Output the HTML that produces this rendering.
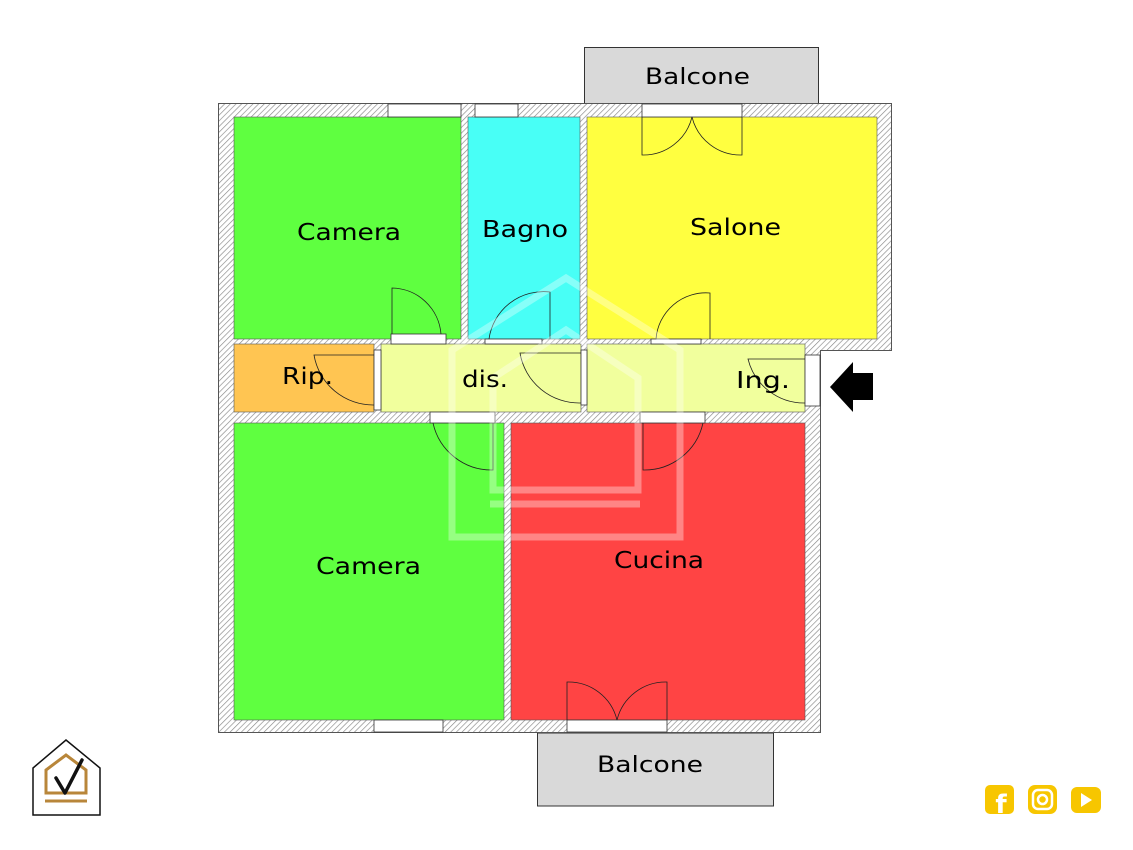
<!DOCTYPE html>
<html><head><meta charset="utf-8"><style>
html,body{margin:0;padding:0;background:#fff;width:1133px;height:850px;overflow:hidden}
svg{display:block}
text{font-family:"DejaVu Sans","Liberation Sans",sans-serif;fill:#000}
</style></head><body>
<svg width="1133" height="850" viewBox="0 0 1133 850" xmlns="http://www.w3.org/2000/svg">
<defs>
<pattern id="h" width="4" height="4" patternUnits="userSpaceOnUse" patternTransform="rotate(45)">
<rect width="4" height="4" fill="#fff"/><line x1="0" y1="0" x2="0" y2="4" stroke="#888" stroke-width="1.3"/>
</pattern>
</defs>
<rect x="584.5" y="47.5" width="234" height="56" fill="#d9d9d9" stroke="#333"/>
<text x="645" y="84" font-size="22" textLength="105" lengthAdjust="spacingAndGlyphs">Balcone</text>
<rect x="537.5" y="733" width="236" height="73" fill="#d9d9d9" stroke="#333"/>
<text x="597" y="772" font-size="22" textLength="106" lengthAdjust="spacingAndGlyphs">Balcone</text>
<path d="M218.5 103.5 H891.5 V350.5 H820.5 V732.5 H218.5 Z" fill="url(#h)" stroke="#555"/>
<rect x="234" y="117" width="227" height="222" fill="#5fff40" stroke="#555" stroke-width=".6"/>
<rect x="468" y="117" width="112" height="222" fill="#48fff6" stroke="#555" stroke-width=".6"/>
<rect x="587" y="117" width="290" height="222" fill="#ffff40" stroke="#555" stroke-width=".6"/>
<rect x="234" y="344" width="140" height="68" fill="#ffc552" stroke="#555" stroke-width=".6"/>
<rect x="381" y="344" width="200" height="68" fill="#f1ff9d" stroke="#555" stroke-width=".6"/>
<rect x="587" y="344" width="218" height="68" fill="#f1ff9d" stroke="#555" stroke-width=".6"/>
<rect x="234" y="423" width="270" height="297" fill="#5fff40" stroke="#555" stroke-width=".6"/>
<rect x="511" y="423" width="294" height="297" fill="#ff4444" stroke="#555" stroke-width=".6"/>
<g fill="#fff" stroke="#333" stroke-width=".8">
<rect x="388" y="104" width="73" height="13"/>
<rect x="475" y="104" width="43" height="13"/>
<rect x="642" y="104" width="100" height="13"/>
<rect x="374" y="720" width="69" height="12"/>
<rect x="567" y="720" width="100" height="12"/>
<rect x="805" y="355" width="15" height="51"/>
<rect x="391" y="334" width="55" height="10"/>
<rect x="485" y="339" width="57" height="5"/>
<rect x="651" y="339" width="50" height="5"/>
<rect x="430" y="412" width="65" height="11"/>
<rect x="640" y="412" width="65" height="11"/>
<rect x="374" y="350" width="7" height="60"/>
<rect x="581" y="350" width="6" height="55"/>
</g>
<g fill="none" stroke="#222" stroke-width=".8">
<path d="M392 334 V288 A50 50 0 0 1 441 334"/>
<path d="M550 339 V292 A55 55 0 0 0 489 339"/>
<path d="M710 339 V293 A50 50 0 0 0 656 339"/>
<path d="M642 117 V155 A50 50 0 0 0 692 117 M742 117 V155 A50 50 0 0 1 692 117"/>
<path d="M374 355 H314 A60 60 0 0 0 374 405"/>
<path d="M581 353 H520 A60 60 0 0 0 581 403"/>
<path d="M805 359 H748 A58 58 0 0 0 805 403"/>
<path d="M493 423 V470 A60 60 0 0 1 433 423"/>
<path d="M643 423 V470 A60 60 0 0 0 703 423"/>
<path d="M567 720 V682 A50 50 0 0 1 617 720 M667 720 V682 A50 50 0 0 0 617 720"/>
</g>
<g fill="none" stroke="#fff" stroke-opacity=".35" stroke-width="7">
<path d="M452 537 V350 L566 278 L680 350 V537 Z"/>
<path d="M493 490 V378 L566 330 L638 378 V490 Z"/>
<line x1="490" y1="504" x2="640" y2="504"/>
</g>
<g font-size="23" lengthAdjust="spacingAndGlyphs">
<text x="297" y="240" textLength="104" lengthAdjust="spacingAndGlyphs">Camera</text>
<text x="482" y="237" textLength="86" lengthAdjust="spacingAndGlyphs">Bagno</text>
<text x="690" y="235" textLength="91" lengthAdjust="spacingAndGlyphs">Salone</text>
<text x="282" y="384" textLength="51" lengthAdjust="spacingAndGlyphs">Rip.</text>
<text x="462" y="387" textLength="46" lengthAdjust="spacingAndGlyphs">dis.</text>
<text x="736" y="388" textLength="54" lengthAdjust="spacingAndGlyphs">Ing.</text>
<text x="316" y="574" textLength="105" lengthAdjust="spacingAndGlyphs">Camera</text>
<text x="614" y="568" textLength="90" lengthAdjust="spacingAndGlyphs">Cucina</text>
</g>
<path d="M830 387 L853 362 V373 H873 V400 H853 V412 Z" fill="#000"/>
<path d="M33 815 V768 L66 740 L100 768 V815 Z" fill="#fff" stroke="#111" stroke-width="1.5"/>
<path d="M46 793 V770 L66 755 L86 770 V793 Z" fill="none" stroke="#b8863a" stroke-width="3"/>
<line x1="45" y1="801" x2="87" y2="801" stroke="#b8863a" stroke-width="3"/>
<path d="M56 778 L65 793 L82 760" fill="none" stroke="#111" stroke-width="3.5" stroke-linecap="round" stroke-linejoin="round"/>
<rect x="985" y="785" width="29" height="29" rx="5" fill="#f7c600"/>
<text x="1001" y="813" font-size="26" font-weight="bold" text-anchor="middle" style="fill:#fff">f</text>
<rect x="1028" y="785" width="29" height="29" rx="7" fill="#f7c600"/>
<rect x="1033" y="790" width="19" height="19" rx="5" fill="none" stroke="#fff" stroke-width="2.5"/>
<circle cx="1042.5" cy="799.5" r="4.5" fill="none" stroke="#fff" stroke-width="2.5"/>
<rect x="1071" y="787" width="30" height="26" rx="6" fill="#f7c600"/>
<path d="M1081 793 L1092 800 L1081 807 Z" fill="#fff"/>
</svg>
</body></html>
